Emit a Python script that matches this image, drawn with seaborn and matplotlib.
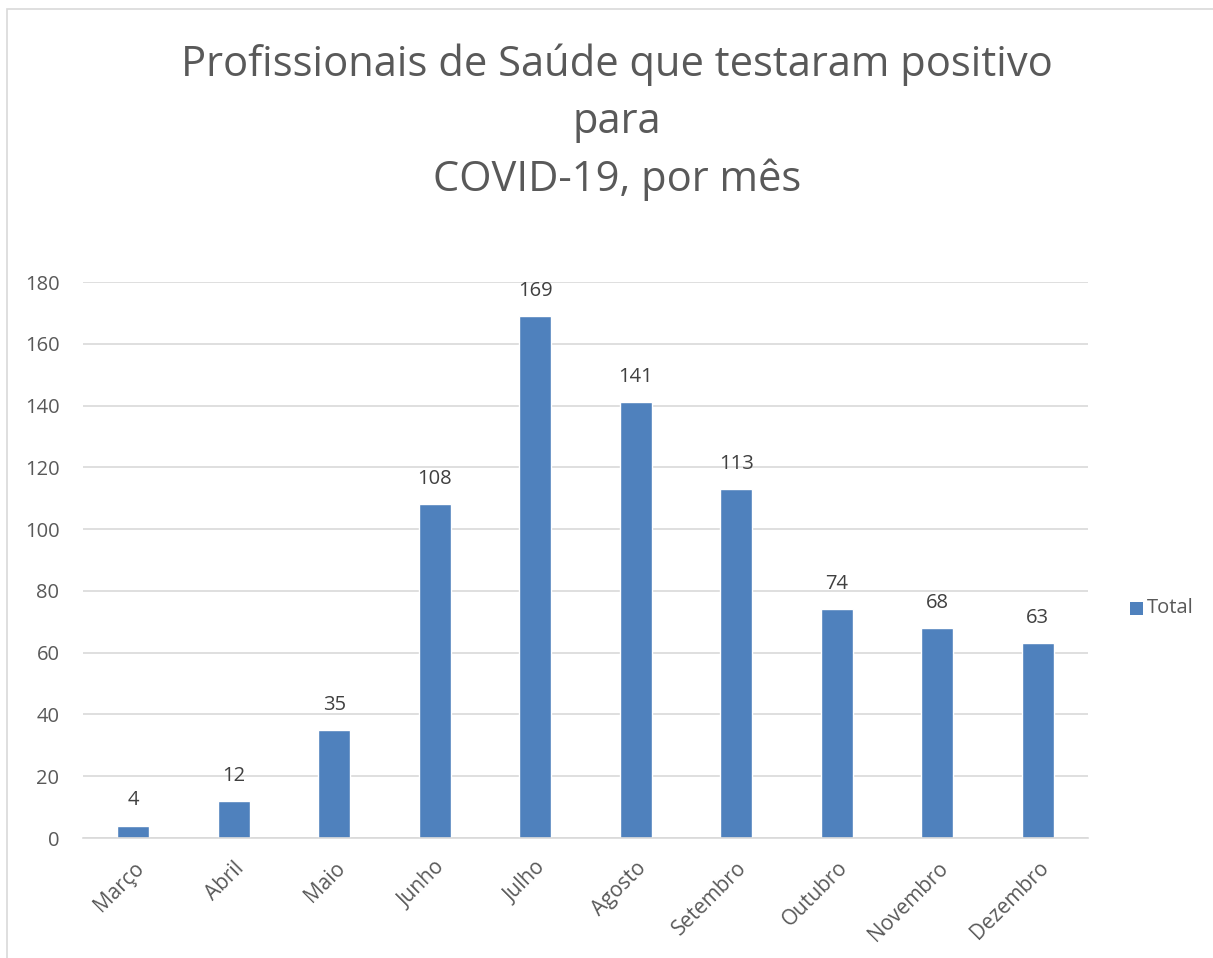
import matplotlib
matplotlib.use("Agg")
import matplotlib.pyplot as plt
import seaborn as sns
import pandas as pd
from matplotlib.patches import Rectangle

months = ["Março", "Abril", "Maio", "Junho", "Julho", "Agosto", "Setembro", "Outubro", "Novembro", "Dezembro"]
totals = [4, 12, 35, 108, 169, 141, 113, 74, 68, 63]
yticks = [0, 20, 40, 60, 80, 100, 120, 140, 160, 180]

sns.set_theme(style="white")
plt.rcParams['font.family'] = ['Open Sans', 'DejaVu Sans']

df = pd.DataFrame({"Mês": months, "Total": totals})

fig = plt.figure(figsize=(12.13, 9.58), dpi=100)
ax = fig.add_axes([83/1213, 1-838/958, (1088-83)/1213, (838-282)/958])

bar_color = "#4f81bd"
sns.barplot(data=df, x="Mês", y="Total", color=bar_color, width=0.32, ax=ax, saturation=1)

ax.set_ylim(0, 180)
ax.set_yticks(yticks)
ax.set_xlim(-0.5, len(months) - 0.5)
ax.yaxis.grid(True, color="#d9d9d9", linewidth=1.2)
ax.set_axisbelow(True)
for s in ["top", "right", "left"]:
    ax.spines[s].set_visible(False)
ax.spines["bottom"].set_color("#d9d9d9")
ax.spines["bottom"].set_linewidth(1.2)
ax.set_xlabel("")
ax.set_ylabel("")
ax.tick_params(axis="both", length=0, labelsize=14.5, colors="#595959")
ax.set_xticks(range(len(months)))
ax.set_xticklabels(months, rotation=45, ha="right", va="top", rotation_mode="anchor", fontsize=15)
ax.tick_params(axis="x", pad=14)
ax.tick_params(axis="y", pad=17)

for i, v in enumerate(totals):
    ax.annotate(str(v), (i, v), xytext=(0, 11), textcoords="offset points",
                ha="center", va="bottom", fontsize=14.5, color="#404040")

fig.text(617/1213, 1-122/958, "Profissionais de Saúde que testaram positivo\npara\nCOVID-19, por mês",
         ha="center", va="center", fontsize=30, color="#595959", linespacing=1.48)

# legend
fig.patches.append(Rectangle((1130/1213, 1-615/958), 13/1213, 13/958, transform=fig.transFigure,
                             facecolor=bar_color, edgecolor="none", figure=fig))
fig.text(1147/1213, 1-608/958, "Total", ha="left", va="center", fontsize=14.5, color="#595959")

# outer border
fig.patches.append(Rectangle((6.5/1213, -0.01), 1.2, 1 - 8.5/958 + 0.01, transform=fig.transFigure,
                             facecolor="none", edgecolor="#d9d9d9", linewidth=1.2, figure=fig))

fig.savefig("out.png", dpi=100)
